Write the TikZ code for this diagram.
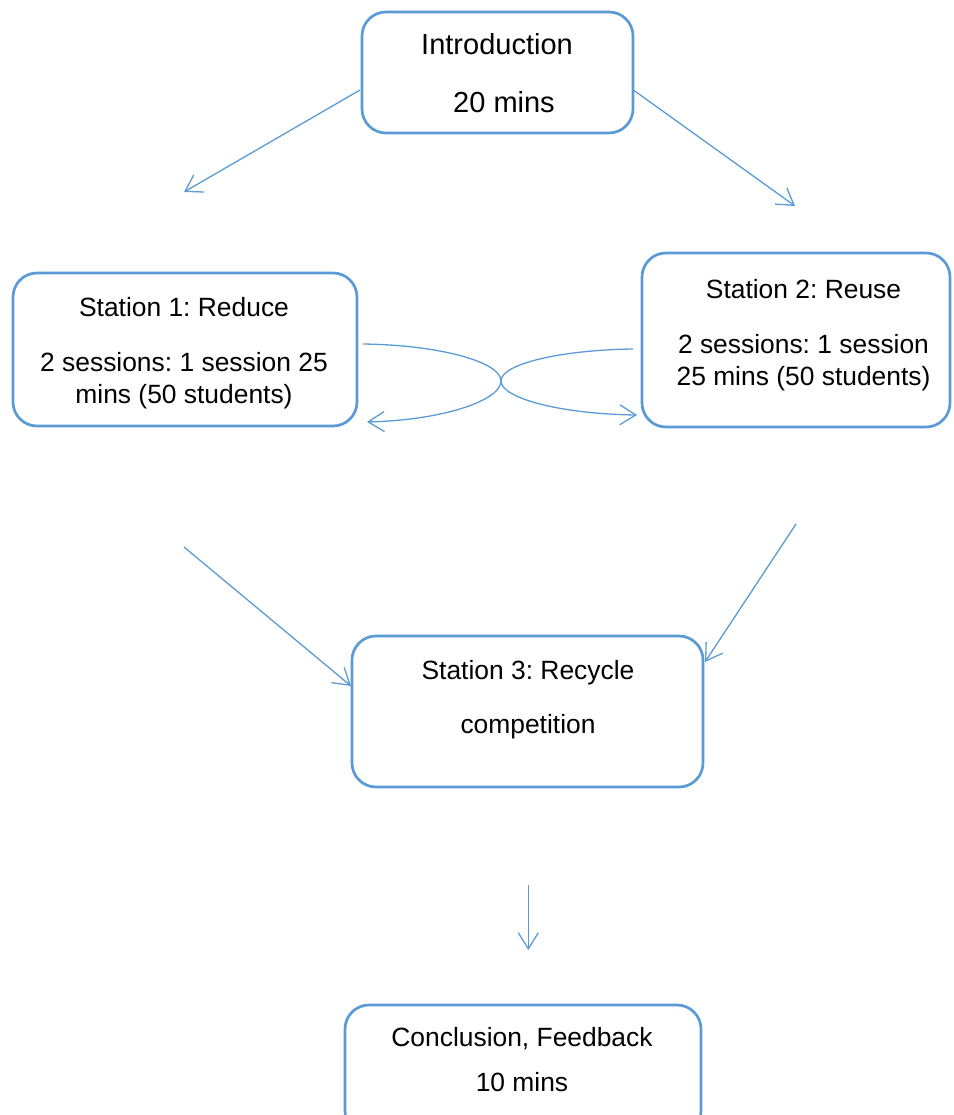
\documentclass[tikz,border=0pt]{standalone}
\usepackage{fontspec}
\setmainfont{Liberation Sans}
\usetikzlibrary{arrows.meta}
\definecolor{blueline}{HTML}{5B9BD5}
\frenchspacing
\tikzset{
  box/.style={draw=blueline, line width=2.7pt, rounded corners=24pt, inner sep=0pt, fill=none},
  lbl/.style={anchor=base, inner sep=0pt, font=\fontsize{26.4}{31}\selectfont\frenchspacing, text=black},
  biglbl/.style={anchor=base, inner sep=0pt, font=\fontsize{29}{34}\selectfont\frenchspacing, text=black},
  conn/.style={draw=blueline, line width=1.3pt, -{Straight Barb[length=16pt,width=20pt,line width=1.3pt]}}
}
\begin{document}
\begin{tikzpicture}[x=1pt,y=-1pt]
\useasboundingbox (0,0) rectangle (953,1115);
\clip (0,0) rectangle (953,1115);
% boxes
\node[box, minimum width=271pt, minimum height=121pt] (intro) at (497.5,72.5) {};
\node[box, minimum width=344pt, minimum height=153pt] (s1) at (185,349.5) {};
\node[box, minimum width=308pt, minimum height=174pt] (s2) at (796,340) {};
\node[box, minimum width=351pt, minimum height=151pt] (s3) at (527.5,711.5) {};
\node[box, minimum width=356pt, minimum height=130pt] (concl) at (523,1070) {};
% texts
\node[biglbl] (t1) at (497,55) {Introduction};
\node[biglbl] (t2) at (504,113) {20 mins};
\node[lbl] (t3) at (184,316) {Station 1: Reduce};
\node[lbl] (t4) at (184,371.7) {2 sessions: 1 session 25};
\node[lbl] (t5) at (184,403) {mins (50 students)};
\node[lbl] (t6) at (803.5,298) {Station 2: Reuse};
\node[lbl] (t7) at (803.5,353) {2 sessions: 1 session};
\node[lbl] (t8) at (803.5,385) {25 mins (50 students)};
\node[lbl] (t9) at (528,679) {Station 3: Recycle};
\node[lbl] (t10) at (528,733) {competition};
\node[lbl] (t11) at (522,1046.7) {Conclusion, Feedback};
\node[lbl] (t12) at (522,1091.7) {10 mins};
% free ends
\coordinate (iL) at (360,90);
\coordinate (iLend) at (184,192);
\coordinate (iR) at (633.3,90);
\coordinate (iRend) at (795,206);
\coordinate (aS) at (363,344);
\coordinate (aE) at (367,422);
\coordinate (bS) at (633,349);
\coordinate (bE) at (637,415);
\coordinate (x) at (501,381);
\coordinate (d1S) at (184,547);
\coordinate (d1E) at (351,686);
\coordinate (d2S) at (796,524);
\coordinate (d2E) at (705,662);
\coordinate (dS) at (528.3,885);
\coordinate (dE) at (528.3,950);
% connectors
\draw[conn] (iL) -- (iLend);
\draw[conn] (iR) -- (iRend);
\draw[conn] (aS) .. controls (440,345) and (501,362) .. (x) .. controls (501,400) and (445,420) .. (aE);
\draw[conn] (bS) .. controls (560,350) and (501,364) .. (x) .. controls (501,398) and (560,414) .. (bE);
\draw[conn] (d1S) -- (d1E);
\draw[conn] (d2S) -- (d2E);
\draw[conn] (dS) -- (dE);
\end{tikzpicture}
\end{document}
